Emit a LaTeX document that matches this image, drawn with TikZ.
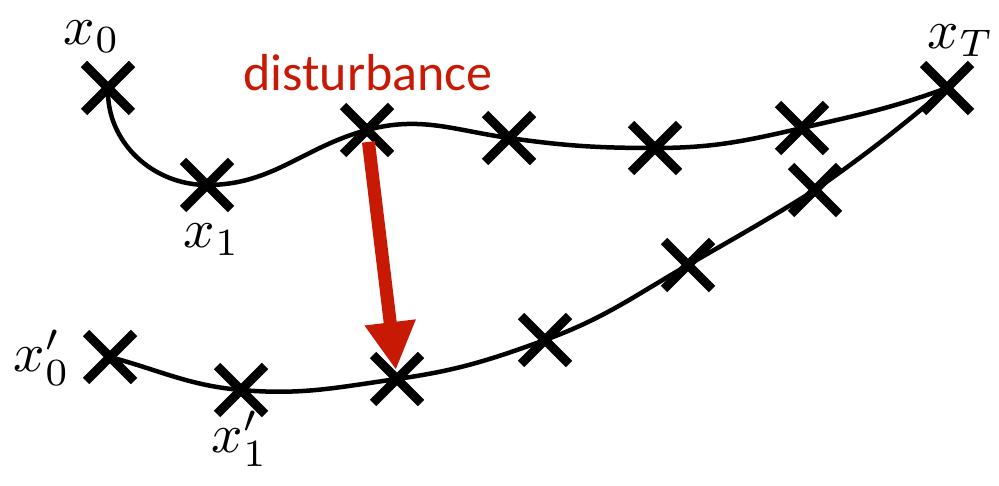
\documentclass[tikz,border=0pt]{standalone}
\usepackage{fontspec}
\newfontfamily\calib{Carlito}
\usetikzlibrary{shapes.misc,arrows.meta}
\definecolor{distred}{RGB}{200,25,5}
\tikzset{
  mk/.style={cross out, draw=black, line width=9pt, minimum size=48pt, inner sep=0pt, outer sep=0pt},
  traj/.style={line width=4.5pt, black},
  lab/.style={scale=5.5, inner sep=0pt},
  disturb/.style={line width=13pt, distred, -{Triangle[width=48pt,length=48pt]}},
}
\begin{document}
\begin{tikzpicture}[x=1pt,y=1pt]
\useasboundingbox (0,0) rectangle (999,485);
% top trajectory
\node[mk] (x0) at (108,397) {};
\node[mk] (x1) at (207,300) {};
\node[mk] (d)  at (367,355) {};
\node[mk] (t4) at (509,347) {};
\node[mk] (t5) at (655,337) {};
\node[mk] (t6) at (802,357) {};
\node[mk] (xT) at (947,397) {};
% lower trajectory
\node[mk] (l0) at (110,128) {};
\node[mk] (l1) at (241,95) {};
\node[mk] (l2) at (397,106) {};
\node[mk] (l3) at (545,145) {};
\node[mk] (l4) at (688,220) {};
\node[mk] (l5) at (815,295) {};
% curves
\draw[traj] (x0.center) to[out=-92,in=180] (x1.center)
  to[out=0,in=195] (d.center)
  to[out=15,in=172] (t4.center)
  to[out=-8,in=180] (t5.center)
  to[out=0,in=193] (t6.center)
  to[out=13,in=200] (xT.center);
\draw[traj] (l0.center) to[out=-15,in=175] (l1.center)
  to[out=-5,in=188] (l2.center)
  to[out=8,in=200] (l3.center)
  to[out=20,in=210] (l4.center)
  to[out=30,in=212] (l5.center)
  to[out=35,in=220] (xT.center);
% labels
\node[lab] (lx0) at (92,448) {$x_0$};
\node[lab] (lx1) at (212,245) {$x_1$};
\node[lab] (lxT) at (961,444) {$x_T$};
\node[lab] (lx0p) at (42,127) {$x'_0$};
\node[lab] (lx1p) at (240,46) {$x'_1$};
\node[font=\calib\fontsize{52}{60}\selectfont, text=distred, inner sep=0pt] (dl) at (368,412) {disturbance};
% disturbance arrow
\draw[disturb, shorten <=12pt, shorten >=9pt] (d.center) -- (l2.center);
\end{tikzpicture}
\end{document}
